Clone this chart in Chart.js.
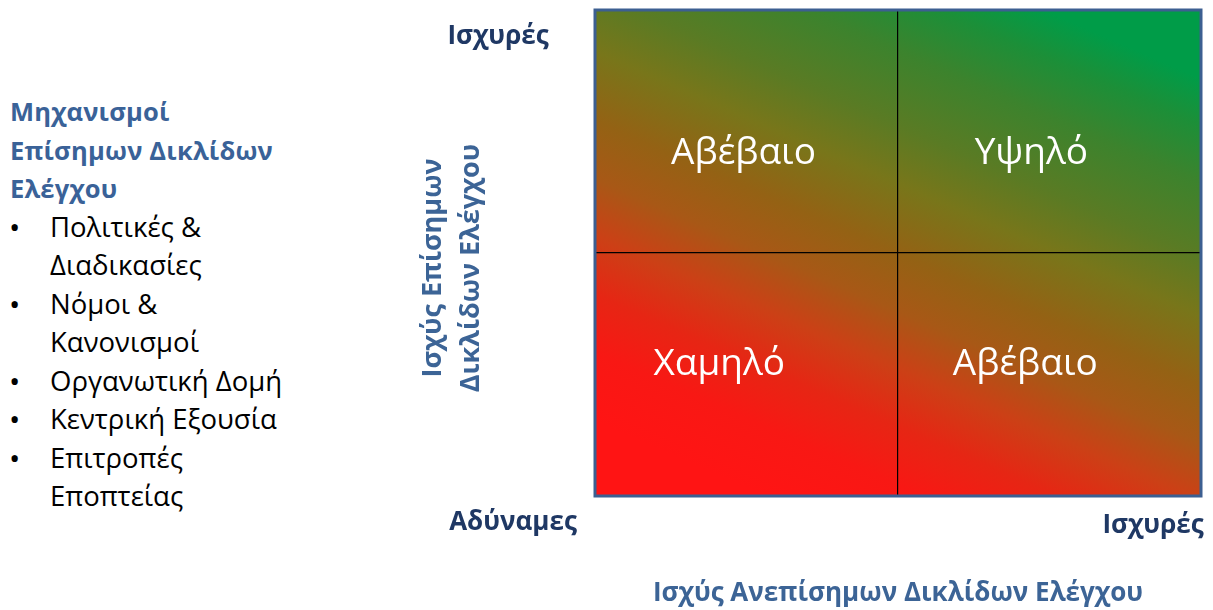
<!DOCTYPE html>
<html>
<head>
<meta charset="utf-8">
<script src="https://cdn.jsdelivr.net/npm/chart.js@4"></script>
<style>
  body { margin: 0; width: 1213px; height: 610px; background: #fff; font-family: "Open Sans", sans-serif; overflow: hidden; }
  #wrap { position: absolute; left: 0; top: 0; width: 1213px; height: 610px; }
  #side { position: absolute; left: 10px; top: 92px; font-size: 27.5px; line-height: 38.5px; color: #000; }
  #side .ttl { color: #3a6298; font-weight: bold; font-size: 25.5px; letter-spacing: 0.2px; }
  #side ul { list-style: none; margin: 0; padding: 0; }
  #side li { position: relative; padding-left: 40px; }
  #side li:before { content: "\2022"; position: absolute; left: -1px; top: 0; font-size: 30px; }
</style>
</head>
<body>
<div id="side">
  <div class="ttl">Μηχανισμοί<br>Επίσημων Δικλίδων<br>Ελέγχου</div>
  <ul>
    <li>Πολιτικές &amp;<br>Διαδικασίες</li>
    <li>Νόμοι &amp;<br>Κανονισμοί</li>
    <li>Οργανωτική Δομή</li>
    <li>Κεντρική Εξουσία</li>
    <li>Επιτροπές<br>Εποπτείας</li>
  </ul>
</div>
<div id="wrap"><canvas id="matrix" width="1213" height="610"></canvas></div>
<script>
// quadrant labels and where they sit on the 0..2 grid
const quadLabels = ["Χαμηλό", "Αβέβαιο", "Αβέβαιο", "Υψηλό"];
const quadX = [0.41, 1.42, 0.49, 1.44];
const quadY = [0.54, 0.54, 1.41, 1.41];
const xEnds = ["Αδύναμες", "Ισχυρές"];
const yEnds = ["Αδύναμες", "Ισχυρές"];
const xTitle = "Ισχύς Ανεπίσημων Δικλίδων Ελέγχου";
const yTitle = ["Ισχύς Επίσημων", "Δικλίδων Ελέγχου"];

const navy = "#1f3864";
const blue = "#3c6496";

const matrixPlugin = {
    id: "matrix",
    beforeDraw(chart) {
        const ctx = chart.ctx, a = chart.chartArea;
        const w = a.right - a.left, h = a.bottom - a.top;
        // gradient red (bottom-left) -> green (top-right), a bit steeper than the diagonal
        const k = 0.35;
        const sx = a.left + w * (0.5 - k / 2), sy = a.bottom;
        const dx = w * k, dy = -h;
        const t0 = -0.15, t1 = 1.15;
        const g = ctx.createLinearGradient(sx + dx * t0, sy + dy * t0, sx + dx * t1, sy + dy * t1);
        const stops = [[-0.02, "rgb(255,20,20)"], [0.1, "rgb(248,24,20)"], [0.2, "rgb(230,38,20)"],
                       [0.3, "rgb(204,64,22)"], [0.4, "rgb(168,88,22)"], [0.5, "rgb(148,98,20)"],
                       [0.62, "rgb(120,118,26)"], [0.72, "rgb(90,123,36)"], [0.85, "rgb(60,131,45)"],
                       [0.95, "rgb(28,143,56)"], [1.03, "rgb(0,156,72)"]];
        stops.forEach(s => g.addColorStop(Math.min(1, Math.max(0, (s[0] - t0) / (t1 - t0))), s[1]));
        ctx.save();
        ctx.fillStyle = g;
        ctx.fillRect(a.left, a.top, w, h);
        ctx.restore();
    },
    afterDraw(chart) {
        const ctx = chart.ctx, a = chart.chartArea;
        const meta = chart.getDatasetMeta(0);
        ctx.save();
        ctx.strokeStyle = "#3c5f91";
        ctx.lineWidth = 3;
        ctx.strokeRect(a.left, a.top, a.right - a.left, a.bottom - a.top);

        ctx.textAlign = "center";
        ctx.textBaseline = "middle";
        ctx.fillStyle = "#fff";
        ctx.font = "37px 'Open Sans'";
        meta.data.forEach((pt, i) => ctx.fillText(quadLabels[i], pt.x, pt.y));

        ctx.fillStyle = navy;
        ctx.font = "bold 26px 'Open Sans'";
        ctx.fillText(yEnds[1], a.left - 97, a.top + 27);
        ctx.fillText(xEnds[0], a.left - 82, a.bottom + 27);
        ctx.fillText(xEnds[1], a.right - 48, a.bottom + 30);

        ctx.fillStyle = blue;
        ctx.font = "bold 26px 'Open Sans'";
        ctx.fillText(xTitle, (a.left + a.right) / 2, a.bottom + 98);
        ctx.font = "bold 27px 'Open Sans'";
        ctx.translate(a.left - 143, (a.top + a.bottom) / 2 + 15);
        ctx.rotate(-Math.PI / 2);
        ctx.fillText(yTitle[0], 0, -19);
        ctx.fillText(yTitle[1], 0, 19);
        ctx.restore();
    }
};

const gridAtOne = (c) => c.tick && c.tick.value === 1 ? "#000" : "rgba(0,0,0,0)";

new Chart(document.getElementById("matrix"), {
    type: "scatter",
    data: {
        datasets: [{
            data: quadLabels.map((l, i) => ({ x: quadX[i], y: quadY[i] })),
            pointRadius: 0,
        }],
    },
    options: {
        responsive: false,
        animation: false,
        events: [],
        layout: { padding: { left: 595, right: 12, top: 10, bottom: 114 } },
        plugins: { legend: { display: false }, tooltip: { enabled: false } },
        scales: {
            x: {
                min: 0, max: 2,
                ticks: { display: false, stepSize: 1 },
                border: { display: false },
                grid: { color: gridAtOne, lineWidth: 1.2, drawTicks: false },
            },
            y: {
                min: 0, max: 2,
                ticks: { display: false, stepSize: 1 },
                border: { display: false },
                grid: { color: gridAtOne, lineWidth: 1.2, drawTicks: false },
            },
        },
    },
    plugins: [matrixPlugin],
});
</script>
</body>
</html>
